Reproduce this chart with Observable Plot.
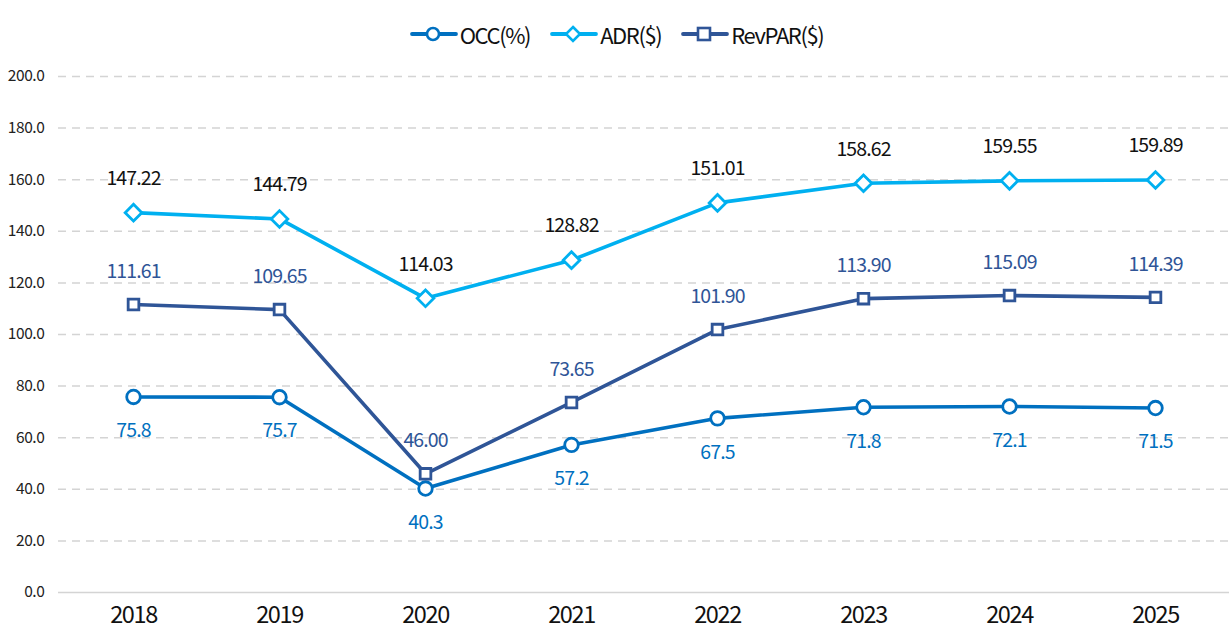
<!DOCTYPE html>
<html>
<head>
<meta charset="utf-8">
<script src="https://cdn.jsdelivr.net/npm/d3@7"></script>
<script src="https://cdn.jsdelivr.net/npm/@observablehq/plot@0.6"></script>
<style>
  html, body { margin: 0; padding: 0; background: #fff; }
  body { width: 1229px; height: 639px; overflow: hidden; font-family: "Noto Sans CJK KR", "Noto Sans", sans-serif; }
  #legend { height: 55px; display: flex; justify-content: center; align-items: center; gap: 20px; padding-left: 4px; box-sizing: border-box; padding-top: 12px; }
  .item { display: flex; align-items: center; font-size: 22px; letter-spacing: -1.4px; color: #111; }
  .item svg { margin-right: 2px; }
</style>
</head>
<body>
<div id="legend"></div>
<div id="chart"></div>
<script>
const years = ["2018","2019","2020","2021","2022","2023","2024","2025"];
const occ = [75.8, 75.7, 40.3, 57.2, 67.5, 71.8, 72.1, 71.5];
const adr = [147.22, 144.79, 114.03, 128.82, 151.01, 158.62, 159.55, 159.89];
const revpar = [111.61, 109.65, 46.00, 73.65, 101.90, 113.90, 115.09, 114.39];
const yTicks = [0, 20, 40, 60, 80, 100, 120, 140, 160, 180, 200];

const seriesNames = ["OCC(%)", "ADR($)", "RevPAR($)"];
const colors = {"OCC(%)": "#0070C0", "ADR($)": "#00B0F0", "RevPAR($)": "#2F5597"};
const labelColors = {"OCC(%)": "#0070C0", "ADR($)": "#111111", "RevPAR($)": "#2F5597"};
const symbols = {"OCC(%)": "circle", "ADR($)": "diamond2", "RevPAR($)": "square2"};

const rows = [];
years.forEach((y, i) => {
  rows.push({year: y, series: "OCC(%)", value: occ[i], label: occ[i].toFixed(1)});
  rows.push({year: y, series: "ADR($)", value: adr[i], label: adr[i].toFixed(2)});
  rows.push({year: y, series: "RevPAR($)", value: revpar[i], label: revpar[i].toFixed(2)});
});

// legend
const legend = document.getElementById("legend");
seriesNames.forEach(name => {
  const c = colors[name];
  let marker;
  if (name === "OCC(%)") marker = `<circle cx="23" cy="11" r="6" fill="#fff" stroke="${c}" stroke-width="2.6"/>`;
  else if (name === "ADR($)") marker = `<path d="M23 4 L30 11 L23 18 L16 11 Z" fill="#fff" stroke="${c}" stroke-width="2.6"/>`;
  else marker = `<rect x="17" y="5" width="12" height="12" fill="#fff" stroke="${c}" stroke-width="2.6"/>`;
  legend.insertAdjacentHTML("beforeend",
    `<div class="item"><svg width="48" height="22"><line x1="2" y1="11" x2="46" y2="11" stroke="${c}" stroke-width="3.8" stroke-linecap="round"/>${marker}</svg>${name}</div>`);
});

const chart = Plot.plot({
  width: 1229,
  height: 584,
  marginLeft: 58,
  marginRight: 0,
  marginTop: 21,
  marginBottom: 47,
  style: {fontFamily: "'Noto Sans CJK KR', 'Noto Sans', sans-serif", background: "#fff"},
  x: {type: "point", domain: years, padding: 0.5},
  y: {domain: [0, 200]},
  marks: [
    Plot.ruleY(yTicks.filter(d => d > 0), {stroke: "#d4d4d4", strokeWidth: 1.5, strokeDasharray: "8,6"}),
    Plot.ruleY([0], {stroke: "#d4d4d4", strokeWidth: 1.5}),
    Plot.axisY({ticks: yTicks, tickSize: 0, tickPadding: 14, tickFormat: d => d.toFixed(1), fill: "#222", label: null, fontSize: 15.5}),
    Plot.axisX({tickSize: 0, tickPadding: 14, fill: "#111", label: null, fontSize: 23.5}),
    Plot.line(rows, {x: "year", y: "value", z: "series", stroke: d => colors[d.series], strokeWidth: 3.6}),
    ...seriesNames.map(s => Plot.dot(rows.filter(d => d.series === s), {
      x: "year", y: "value", symbol: symbols[s], r: s === "ADR($)" ? 7.5 : 6.8,
      fill: "#fff", stroke: colors[s], strokeWidth: 2.8
    })),
    Plot.text(rows.filter(d => d.series === "ADR($)"), {x: "year", y: "value", text: "label", dy: -34, fill: labelColors["ADR($)"], fontSize: 19.5}),
    Plot.text(rows.filter(d => d.series === "RevPAR($)"), {x: "year", y: "value", text: "label", dy: -33, fill: labelColors["RevPAR($)"], fontSize: 19.5}),
    Plot.text(rows.filter(d => d.series === "OCC(%)"), {x: "year", y: "value", text: "label", dy: 34, fill: labelColors["OCC(%)"], fontSize: 19.5})
  ]
});
d3.select(chart).selectAll('g[aria-label="y-axis tick label"] text').style("letter-spacing", "-0.4px");
d3.select(chart).selectAll('g[aria-label="x-axis tick label"] text').style("letter-spacing", "-1.4px");
d3.select(chart).selectAll('g[aria-label="text"] text').style("letter-spacing", "-0.9px");
document.getElementById("chart").appendChild(chart);
</script>
</body>
</html>
